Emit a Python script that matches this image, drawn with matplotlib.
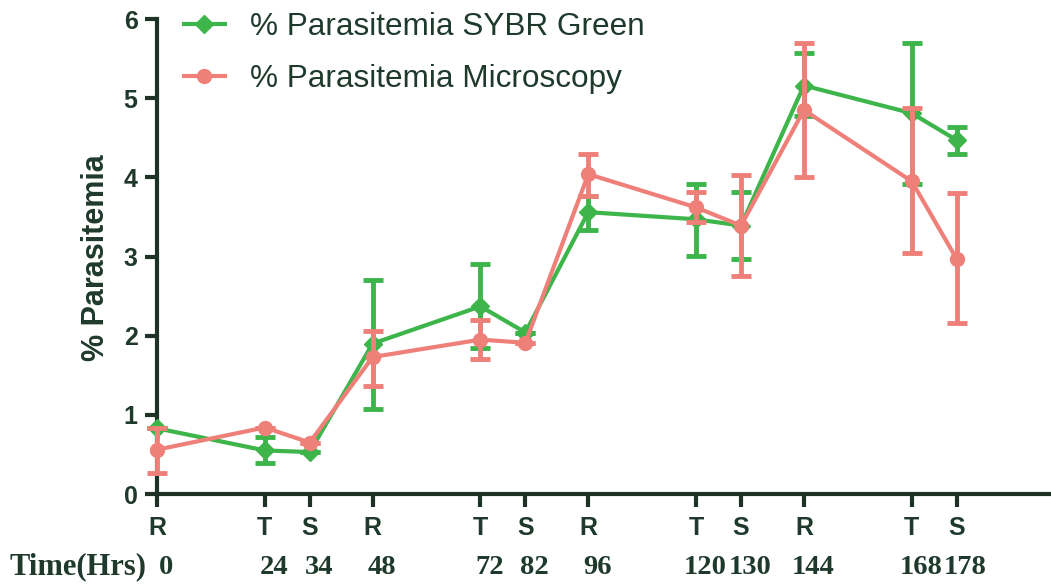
import numpy as np
import matplotlib
matplotlib.use('Agg')
import matplotlib.pyplot as plt
from matplotlib import transforms
from matplotlib.lines import Line2D

# data
times = [0, 24, 34, 48, 72, 82, 96, 120, 130, 144, 168, 178]
phase = ['R', 'T', 'S', 'R', 'T', 'S', 'R', 'T', 'S', 'R', 'T', 'S']

sybr = [0.83, 0.55, 0.53, 1.90, 2.37, 2.04, 3.56, 3.47, 3.39, 5.16, 4.81, 4.47]
sybr_lo = [0.83, 0.39, 0.53, 1.08, 1.85, 2.04, 3.34, 3.01, 2.97, 4.77, 3.92, 4.30]
sybr_hi = [0.83, 0.72, 0.53, 2.70, 2.90, 2.04, 3.77, 3.91, 3.81, 5.57, 5.70, 4.63]

micro = [0.56, 0.84, 0.65, 1.73, 1.95, 1.91, 4.04, 3.62, 3.39, 4.85, 3.95, 2.97]
micro_lo = [0.27, 0.84, 0.65, 1.37, 1.71, 1.91, 3.76, 3.43, 2.75, 4.01, 3.04, 2.16]
micro_hi = [0.83, 0.84, 0.65, 2.06, 2.20, 1.91, 4.30, 3.81, 4.03, 5.70, 4.87, 3.80]

green = '#3db54b'
red = '#ef8079'
dark = '#1e3326'
txtcol = '#1f3a2c'

plt.rcParams['font.family'] = ['Liberation Sans', 'DejaVu Sans']

fig = plt.figure(figsize=(10.51, 5.84), dpi=100)
ax = fig.add_axes([157 / 1051, 1 - 494 / 584, 1 - 157 / 1051, (494 - 19) / 584])

def yerr(vals, lo, hi):
    v = np.array(vals)
    return [v - np.array(lo), np.array(hi) - v]

ax.errorbar(times, sybr, yerr=yerr(sybr, sybr_lo, sybr_hi), color=green,
            marker='D', markersize=9, lw=3, elinewidth=3.5, capsize=7,
            capthick=3.5, clip_on=False, zorder=3)
ax.errorbar(times, micro, yerr=yerr(micro, micro_lo, micro_hi), color=red,
            marker='o', markersize=10, lw=3, elinewidth=3.5, capsize=7,
            capthick=3.5, clip_on=False, zorder=4)

ax.set_xlim(0, 199)
ax.set_ylim(0, 6)

for s in ['top', 'right']:
    ax.spines[s].set_visible(False)
for s in ['left', 'bottom']:
    ax.spines[s].set_linewidth(3)
    ax.spines[s].set_color(dark)

ax.set_yticks(range(0, 7))
ax.set_xticks(times)
ax.set_xticklabels(phase)
ax.tick_params(axis='both', colors=dark, width=3, length=9, labelsize=18, pad=5)
ax.tick_params(axis='x', pad=7)
for lab in ax.get_xticklabels() + ax.get_yticklabels():
    lab.set_fontweight('bold')
    lab.set_color(txtcol)

fig.text(96 / 1051, 1 - 258 / 584, '% Parasitemia', rotation=90, ha='center', va='center',
         fontsize=22, fontweight='bold', color=txtcol)

# second row of x labels: time in hours (typed in slightly right of the ticks)
trans = transforms.blended_transform_factory(ax.transData, fig.transFigure)
trans = trans + transforms.ScaledTranslation(9 / 100, 0, fig.dpi_scale_trans)
for t in times:
    ax.text(t, 1 - 567 / 584, str(t), transform=trans, ha='center', va='center',
            fontsize=20.5, fontweight='bold', family='Liberation Serif', color=txtcol)
fig.text(10 / 1051, 1 - 567 / 584, 'Time(Hrs)', ha='left', va='center',
         fontsize=22, fontweight='bold', family='Liberation Serif', color=txtcol)

handles = [Line2D([], [], color=green, marker='D', markersize=9, lw=3),
           Line2D([], [], color=red, marker='o', markersize=10, lw=3)]
labels = ['% Parasitemia SYBR Green', '% Parasitemia Microscopy']
leg = fig.legend(handles, labels, loc='upper left', bbox_to_anchor=(184 / 1051, 1 - 12 / 584),
                 frameon=False, fontsize=22.7, handlelength=1.3, labelspacing=0.7,
                 handletextpad=0.8, borderpad=0, borderaxespad=0)
for txt in leg.get_texts():
    txt.set_color(txtcol)

fig.savefig('out.png', dpi=100)
